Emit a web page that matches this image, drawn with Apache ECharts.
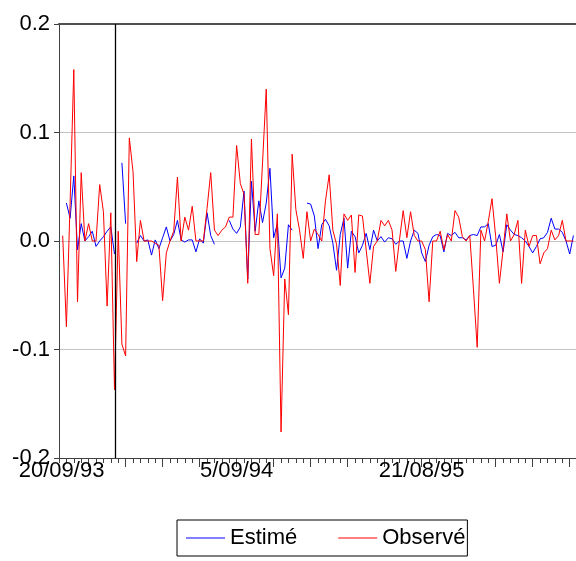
<!DOCTYPE html>
<html>
<head>
<meta charset="utf-8">
<script src="https://cdn.jsdelivr.net/npm/echarts@6/dist/echarts.min.js"></script>
<style>
html,body{margin:0;padding:0;background:#fff;}
#chart{width:576px;height:561px;}
</style>
</head>
<body>
<div id="chart"></div>
<script>
// Observation index (1 = first observation); weekly data
const seriesNames = ['Estimé', 'Observé'];

const estime = [
  null, 0.035, 0.021, 0.060, -0.008, 0.016, 0.000, 0.004, 0.009, -0.005,
  0.000, 0.004, 0.009, 0.013, -0.012, null, 0.072, 0.016, null, null,
  -0.002, 0.005, 0.000, 0.001, -0.013, 0.001, -0.007, 0.003, 0.013, 0.000,
  0.006, 0.019, 0.001, -0.001, 0.001, 0.001, -0.010, 0.002, -0.002, 0.026,
  0.005, -0.003, null, null, null, 0.019, 0.011, 0.007, 0.013, 0.046,
  -0.035, 0.055, 0.009, 0.037, 0.017, 0.035, 0.067, 0.003, 0.016, -0.034,
  -0.025, 0.015, 0.010, null, null, null, 0.035, 0.034, 0.023, -0.007,
  0.015, 0.020, 0.014, -0.002, -0.027, 0.006, 0.021, -0.025, 0.009, 0.004,
  -0.011, -0.004, 0.007, -0.008, 0.010, 0.000, 0.004, -0.001, 0.003, 0.002,
  -0.003, 0.000, 0.000, -0.016, 0.000, 0.010, 0.007, -0.011, -0.019, -0.004,
  0.004, 0.006, 0.005, -0.010, 0.007, 0.005, 0.008, 0.003, 0.003, 0.001,
  0.005, 0.006, 0.005, 0.013, 0.013, 0.016, -0.005, -0.004, 0.006, -0.010,
  0.015, 0.010, 0.006, 0.005, 0.003, 0.000, -0.005, -0.011, -0.005, 0.002,
  0.003, 0.008, 0.021, 0.011, 0.011, 0.008, 0.000, -0.012, 0.005
];

const observe = [
  0.005, -0.079, 0.035, 0.158, -0.056, 0.063, 0.000, 0.016, 0.000, 0.000,
  0.052, 0.027, -0.060, 0.026, -0.137, 0.009, -0.095, -0.106, 0.095, 0.064,
  -0.019, 0.019, 0.000, 0.000, 0.000, -0.002, -0.004, -0.055, -0.011, 0.000,
  0.009, 0.059, 0.000, 0.022, 0.010, 0.032, 0.000, 0.000, 0.000, 0.030,
  0.063, 0.010, 0.005, 0.010, 0.013, 0.022, 0.022, 0.088, 0.053, 0.043,
  -0.039, 0.094, 0.006, 0.006, 0.072, 0.140, -0.007, -0.032, 0.025, -0.176,
  -0.035, -0.068, 0.080, 0.029, 0.010, -0.016, 0.027, 0.000, 0.011, 0.006,
  0.000, 0.037, 0.061, 0.010, -0.003, -0.041, 0.025, 0.019, 0.024, -0.029,
  0.024, 0.023, -0.008, -0.039, -0.005, 0.000, 0.019, 0.014, 0.019, 0.010,
  -0.028, 0.001, 0.028, 0.003, 0.027, 0.005, 0.000, 0.000, -0.008, -0.056,
  0.000, 0.000, 0.009, -0.008, 0.006, 0.000, 0.028, 0.022, 0.004, 0.000,
  0.005, -0.045, -0.098, 0.010, 0.000, 0.018, 0.039, 0.004, -0.039, -0.008,
  0.025, 0.000, 0.006, 0.019, -0.039, 0.010, -0.005, 0.005, 0.005, -0.021,
  -0.011, -0.007, 0.010, 0.001, 0.005, 0.019, 0.000, 0.000, 0.000
];

// x-axis tick labels and where they sit (in observation units)
const tickLabels = ['20/09/93', '5/09/94', '21/08/95'];
const tickLabelAt = [0.7, 48, 98];
const majorTickAt = [8, 18, 28, 38, 48, 58, 68, 78, 88, 98, 108, 118, 128, 138];
const yTicks = [-0.2, -0.1, 0.0, 0.1, 0.2];
const breakLineAt = 15.2;

const xMax = 139.7;
const FONT = "'Liberation Sans', Arial, sans-serif";

const toPairs = arr => arr.map((v, i) => [i + 1, v]);

const chart = echarts.init(document.getElementById('chart'), null, {renderer: 'canvas'});
chart.setOption({
  animation: false,
  backgroundColor: '#ffffff',
  grid: {left: 59, right: 0, top: 24, bottom: 103, containLabel: false},
  legend: {
    data: seriesNames,
    left: 177, top: 520,
    orient: 'horizontal',
    icon: 'rect',
    borderColor: '#000', borderWidth: 1, borderRadius: 0,
    padding: [7, 2, 7, 9],
    itemWidth: 39, itemHeight: 1, itemGap: 41,
    textStyle: {fontSize: 22, fontFamily: FONT, color: '#000', lineHeight: 22}
  },
  xAxis: [
    {
      type: 'value', min: 0, max: xMax, interval: 2, position: 'bottom',
      axisLine: {show: true, onZero: false, lineStyle: {color: '#404040', width: 1}},
      axisTick: {show: true, inside: false, length: 5, lineStyle: {color: '#404040'}},
      axisLabel: {show: false},
      splitLine: {show: false}
    },
    {
      type: 'value', min: 0, max: xMax, position: 'bottom',
      axisLine: {show: false, onZero: false},
      axisTick: {show: true, inside: false, length: 9, customValues: majorTickAt, lineStyle: {color: '#404040'}},
      axisLabel: {
        show: true, margin: 2, customValues: tickLabelAt,
        fontSize: 22, fontFamily: FONT, color: '#000',
        formatter: v => { const i = tickLabelAt.indexOf(v); return i >= 0 ? tickLabels[i] : ''; }
      },
      splitLine: {show: false}
    },
    {
      type: 'value', min: 0, max: xMax, position: 'top',
      axisLine: {show: true, onZero: false, lineStyle: {color: '#505050', width: 2}},
      axisTick: {show: false}, axisLabel: {show: false}, splitLine: {show: false}
    }
  ],
  yAxis: {
    type: 'value', min: yTicks[0], max: yTicks[yTicks.length - 1], interval: 0.1,
    axisLine: {show: true, lineStyle: {color: '#404040', width: 1}},
    axisTick: {show: true, inside: false, length: 5, lineStyle: {color: '#404040'}},
    axisLabel: {
      margin: 9, fontSize: 22, fontFamily: FONT, color: '#000',
      formatter: v => v.toFixed(1)
    },
    splitLine: {show: true, lineStyle: {color: '#c4c4c4', width: 1}}
  },
  series: [
    {
      name: seriesNames[0], type: 'line', xAxisIndex: 0,
      data: toPairs(estime), symbol: 'none', showSymbol: false,
      connectNulls: false,
      lineStyle: {color: '#0000ff', width: 1}, itemStyle: {color: '#0000ff'}
    },
    {
      name: seriesNames[1], type: 'line', xAxisIndex: 0,
      data: toPairs(observe), symbol: 'none', showSymbol: false,
      connectNulls: false,
      lineStyle: {color: '#ff0000', width: 1}, itemStyle: {color: '#ff0000'},
      markLine: {
        silent: true, symbol: ['none', 'none'], animation: false,
        label: {show: false},
        lineStyle: {color: '#000', width: 1.3, type: 'solid'},
        data: [{xAxis: breakLineAt}]
      }
    }
  ]
});
</script>
</body>
</html>
